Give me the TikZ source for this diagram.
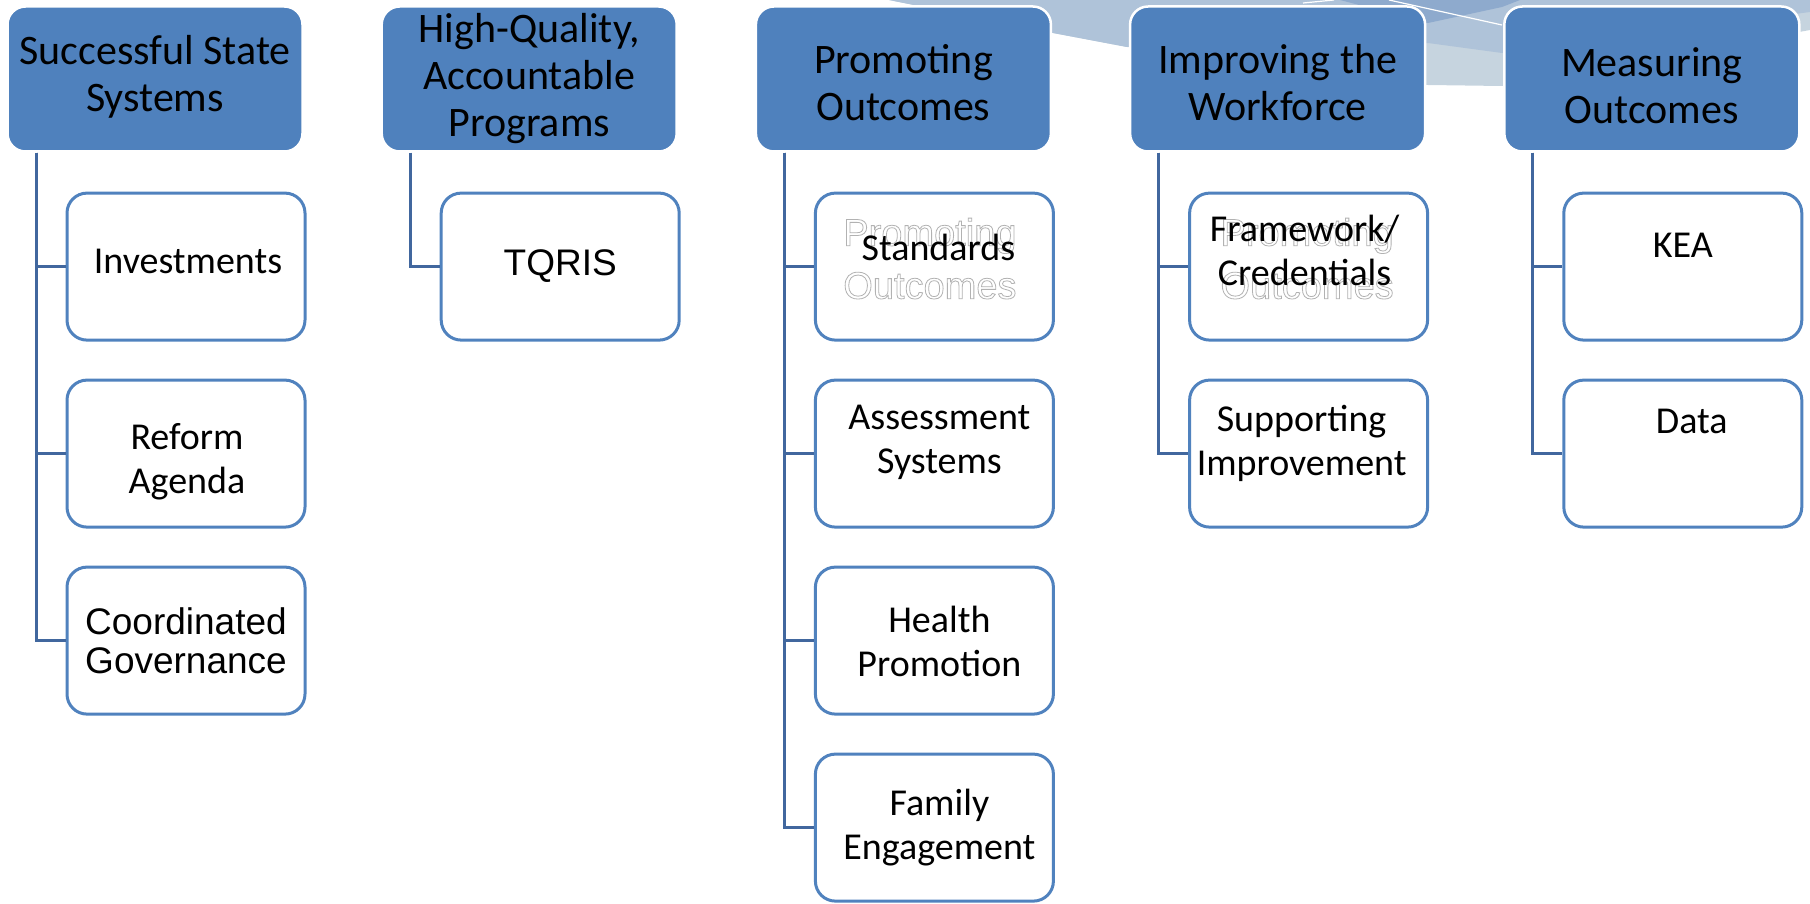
\documentclass[tikz,border=0pt]{standalone}
\usepackage{fontspec}
\setmainfont{Carlito}
\newfontfamily\arialfont{Liberation Sans}
\newcommand{\hollow}[1]{\special{pdf:literal direct 1 Tr 0.8 w}#1\special{pdf:literal direct 0 Tr}}

\begin{document}
\begin{tikzpicture}[x=1pt, y=-1pt,
		hdr/.style={draw=white, line width=2.5pt, fill=hdrBlue, rounded corners=18pt, minimum width=295pt, minimum height=145pt, inner sep=0pt},
		hdrtxt/.style={align=center, inner sep=0pt, font=\fontsize{42}{47}\selectfont},
		kid/.style={draw=boxBlue, line width=3pt, fill=white, rounded corners=20pt, minimum width=238pt, minimum height=147pt, inner sep=0pt},
		kidtxt/.style={align=center, inner sep=0pt, font=\fontsize{38}{44}\selectfont},
		arialtxt/.style={align=center, inner sep=0pt, font=\arialfont\fontsize{37}{39}\selectfont},
		ghost/.style={align=center, inner sep=0pt, text=black!30, font=\arialfont\fontsize{38}{53}\selectfont},
		link/.style={draw=linkBlue, line width=3pt}]
			\definecolor{hdrBlue}{HTML}{4F81BD}
			\definecolor{boxBlue}{HTML}{5082BE}
			\definecolor{linkBlue}{HTML}{41679E}
			\definecolor{swLight}{HTML}{C6D4DF}
			\definecolor{swMid}{HTML}{AFC3D9}
			\definecolor{swDark}{HTML}{8EAACD}
			\useasboundingbox (0,0) rectangle (1810,904);
			
			% swoosh behind the headers
			\fill[swLight] (889,0) -- (1053,33) -- (1127,47) -- (1428,85) -- (1502,86) -- (1810,30) -- (1810,0) -- cycle;
			\fill[swMid] (889,0) -- (1053,33) -- (1127,47) -- (1428,43) -- (1502,53) -- (1810,12) -- (1810,0) -- cycle;
			\fill[swDark] (1340,0) -- (1428,23) -- (1502,7) -- (1520,0) -- cycle;
			\draw[white, line width=1.2pt] (1389,0) -- (1502,25);
			\draw[white, line width=1.2pt] (1303,3) -- (1334,0);
			
			% headers
			\foreach \n/\x/\dy/\lbl in {hSys/155/-2/{Successful State\\Systems}, hProg/529.2/0/{High-Quality,\\Accountable\\Programs}, hProm/903.4/4/{Promoting\\Outcomes}, hWork/1277.6/4/{Improving the\\Workforce}, hMeas/1651.8/7/{Measuring\\Outcomes}}{
				
				\node[hdr] (\n) at (\x,79) {};
				\node[hdrtxt] (\n-txt) at (\x,79+\dy) {\lbl};
			}
			
			% boxes below
			\foreach \n/\x/\y in {cInvest/186/266.6, cReform/186/453.6, cGov/186/640.6, cTqris/560.2/266.6, cStd/934.4/266.6, cAssess/934.4/453.6, cHealth/934.4/640.6, cFamily/934.4/827.6, cFrame/1308.6/266.6, cSupport/1308.6/453.6, cKea/1682.8/266.6, cData/1682.8/453.6}{
				
				\node[kid] (\n) at (\x,\y) {};
			}
			
			\foreach \h/\c in {hSys/cInvest, hSys/cReform, hSys/cGov, hProg/cTqris, hProm/cStd, hProm/cAssess, hProm/cHealth, hProm/cFamily, hWork/cFrame, hWork/cSupport, hMeas/cKea, hMeas/cData}{
				
				\draw[link] ([xshift=-119pt]\h.south) |- (\c.west);
			}
			
			% faint leftover text
			\node[ghost] (gStd) at ([shift={(-4.5,-8)}]cStd.center) {\hollow{Promoting}\\\hollow{Outcomes}};
			\node[ghost] (gFrame) at ([shift={(-1.5,-8)}]cFrame.center) {\hollow{Promoting}\\\hollow{Outcomes}};
			
			\node[kidtxt] (tInvest) at ([shift={(2,-5)}]cInvest.center) {Investments};
			\node[kidtxt] (tReform) at ([shift={(1,8)}]cReform.center) {Reform\\Agenda};
			\node[arialtxt] (tGov) at (cGov.center) {Coordinated\\Governance};
			\node[arialtxt] (tTqris) at ([shift={(0,-1)}]cTqris.center) {TQRIS};
			\node[kidtxt] (tStd) at ([shift={(4,-19)}]cStd.center) {Standards};
			\node[kidtxt] (tAssess) at ([shift={(5,-11)}]cAssess.center) {Assessment\\Systems};
			\node[kidtxt] (tHealth) at ([shift={(5,1)}]cHealth.center) {Health\\Promotion};
			\node[kidtxt] (tFamily) at ([shift={(5,0)}]cFamily.center) {Family\\Engagement};
			\node[kidtxt] (tFrame) at ([shift={(-4,-16)}]cFrame.center) {Framework/\\Credentials};
			\node[kidtxt] (tSupport) at ([shift={(-7,-10)}]cSupport.center) {Supporting\\Improvement};
			\node[kidtxt] (tKea) at ([shift={(0,-21)}]cKea.center) {KEA};
			\node[kidtxt] (tData) at ([shift={(9,-32)}]cData.center) {Data};
		\end{tikzpicture}
\end{document}
